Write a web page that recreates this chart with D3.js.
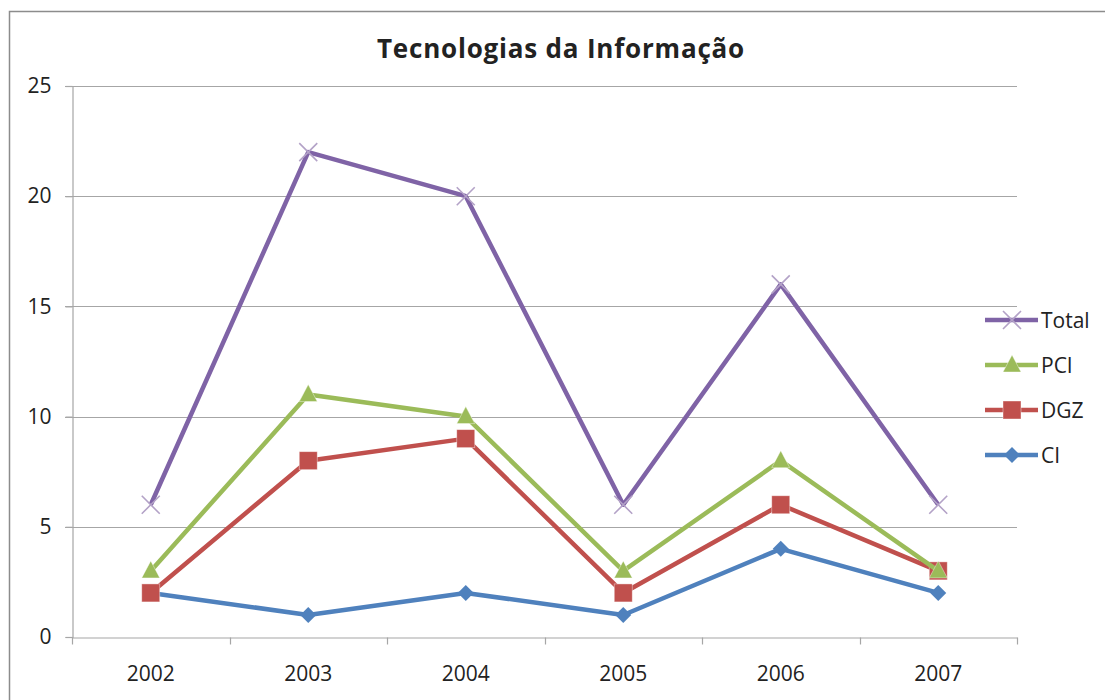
<!DOCTYPE html>
<html>
<head>
<meta charset="utf-8">
<script src="https://cdn.jsdelivr.net/npm/d3@7"></script>
<style>
  body { margin: 0; background: #fff; }
  svg { display: block; }
  text { font-family: "Open Sans", "DejaVu Sans", sans-serif; fill: #222; }
</style>
</head>
<body>
<svg width="1105" height="700"></svg>
<script>
const WIDTH = 1105
const HEIGHT = 700

const years = ["2002", "2003", "2004", "2005", "2006", "2007"]
const yTicks = [0, 5, 10, 15, 20, 25]

const total = [6, 22, 20, 6, 16, 6]
const pci = [3, 11, 10, 3, 8, 3]
const dgz = [2, 8, 9, 2, 6, 3]
const ci = [2, 1, 2, 1, 4, 2]

// drawing order: CI bottom, Total on top
const series = [
    { name: "CI", values: ci, color: "#4F81BD", marker: "diamond" },
    { name: "DGZ", values: dgz, color: "#C0504D", marker: "square" },
    { name: "PCI", values: pci, color: "#9BBB59", marker: "triangle" },
    { name: "Total", values: total, color: "#7F63A6", marker: "cross" }
]
const legendOrder = ["Total", "PCI", "DGZ", "CI"]

const svg = d3.select("svg")

// chart frame (cut off right and bottom like the source)
svg.append("rect")
    .attr("x", 9.5).attr("y", 11.5)
    .attr("width", WIDTH + 20).attr("height", HEIGHT + 20)
    .attr("fill", "none")
    .attr("stroke", "#8c8c8c")
    .attr("stroke-width", 1.5)

const plot = { left: 72, right: 1017, top: 86, bottom: 637 }

const x = d3.scaleBand()
    .domain(years)
    .range([plot.left, plot.right])

const y = d3.scaleLinear()
    .domain([0, 25])
    .range([plot.bottom, plot.top])

const chart = svg.append("g")

// gridlines
chart.append("g")
    .selectAll("line")
    .data(yTicks.filter(d => d > 0))
    .join("line")
    .attr("x1", plot.left - 7)
    .attr("x2", plot.right)
    .attr("y1", d => Math.round(y(d)) + 0.5)
    .attr("y2", d => Math.round(y(d)) + 0.5)
    .attr("stroke", "#a6a6a6")
    .attr("stroke-width", 1.2)

// y axis
const yAxis = chart.append("g")
    .attr("transform", "translate(" + (plot.left + 0.5) + ",0)")
    .call(d3.axisLeft(y).tickValues(yTicks).tickSize(7).tickPadding(14))
yAxis.select(".domain").attr("stroke", "#a6a6a6").attr("stroke-width", 1.2)
yAxis.selectAll(".tick line").attr("stroke", "#a6a6a6").attr("stroke-width", 1.2)
yAxis.selectAll(".tick text")
    .attr("font-size", 21)
    .attr("font-family", "'Open Sans', 'DejaVu Sans', sans-serif")
    .attr("fill", "#222")

// x axis
const xAxis = chart.append("g")
    .attr("transform", "translate(0," + (Math.round(plot.bottom) + 0.5) + ")")
    .call(d3.axisBottom(x).tickSize(0).tickPadding(29))
xAxis.select(".domain").attr("stroke", "#a6a6a6").attr("stroke-width", 1.2)
xAxis.selectAll(".tick text")
    .attr("font-size", 21)
    .attr("font-family", "'Open Sans', 'DejaVu Sans', sans-serif")
    .attr("fill", "#222")
// category boundary ticks
xAxis.append("g")
    .selectAll("line")
    .data(years.map(d => x(d)).concat([plot.right]))
    .join("line")
    .attr("x1", d => Math.round(d) + 0.5)
    .attr("x2", d => Math.round(d) + 0.5)
    .attr("y1", 0)
    .attr("y2", 7)
    .attr("stroke", "#a6a6a6")
    .attr("stroke-width", 1.2)

const cx = d => x(d) + x.bandwidth() / 2

function drawMarker(g, type, color) {
    if (type === "diamond") {
        g.append("path")
            .attr("d", "M0,-8L8,0L0,8L-8,0Z")
            .attr("fill", color)
    } else if (type === "square") {
        g.append("rect")
            .attr("x", -9).attr("y", -9)
            .attr("width", 18).attr("height", 18)
            .attr("fill", color)
            .attr("stroke", "#fff").attr("stroke-opacity", 0.5).attr("stroke-width", 0.8)
    } else if (type === "triangle") {
        g.append("path")
            .attr("d", "M0,-10L9,7L-9,7Z")
            .attr("fill", color)
            .attr("stroke", "#fff").attr("stroke-opacity", 0.5).attr("stroke-width", 0.8)
    } else if (type === "cross") {
        g.append("path")
            .attr("d", "M-9,-9L9,9M-9,9L9,-9")
            .attr("stroke", "#B3A2C7")
            .attr("stroke-width", 1.6)
            .attr("fill", "none")
    }
}

const line = d3.line()
    .x((d, i) => cx(years[i]))
    .y(d => y(d))

series.forEach(s => {
    const g = chart.append("g")
    g.append("path")
        .datum(s.values)
        .attr("d", line)
        .attr("fill", "none")
        .attr("stroke", s.color)
        .attr("stroke-width", 4.5)
        .attr("stroke-linejoin", "round")
    s.values.forEach((v, i) => {
        const mg = g.append("g")
            .attr("transform", "translate(" + cx(years[i]) + "," + y(v) + ")")
        drawMarker(mg, s.marker, s.color)
    })
})

// legend
const legend = svg.append("g")
    .attr("transform", "translate(985,320)")
legendOrder.forEach((name, i) => {
    const s = series.find(d => d.name === name)
    const lg = legend.append("g")
        .attr("transform", "translate(0," + (i * 45) + ")")
    lg.append("line")
        .attr("x1", 0).attr("x2", 53)
        .attr("stroke", s.color)
        .attr("stroke-width", 4.5)
    const mg = lg.append("g").attr("transform", "translate(27,0)")
    drawMarker(mg, s.marker, s.color)
    lg.append("text")
        .attr("x", 56)
        .attr("dy", "0.36em")
        .attr("font-size", 21)
        .text(name)
})

// title
svg.append("text")
    .attr("x", 561)
    .attr("y", 58)
    .attr("text-anchor", "middle")
    .attr("font-size", 26)
    .attr("font-weight", "bold")
    .attr("letter-spacing", 0.8)
    .attr("font-family", "'DejaVu Sans', sans-serif")
    .attr("fill", "#111")
    .text("Tecnologias da Informação")
</script>
</body>
</html>
